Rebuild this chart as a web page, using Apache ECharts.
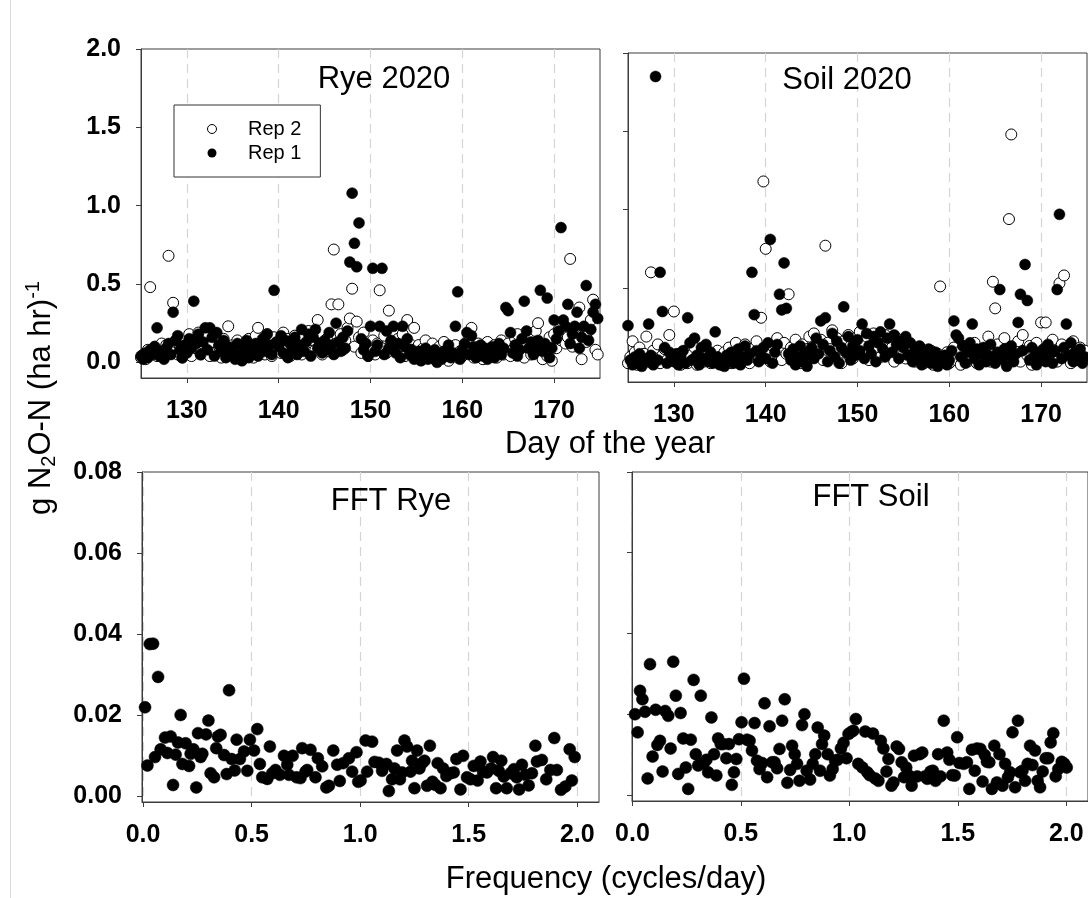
<!DOCTYPE html>
<html><head><meta charset="utf-8">
<script src="https://cdn.jsdelivr.net/npm/echarts@6/dist/echarts.min.js"></script>
<style>html,body{margin:0;padding:0;background:#fff}#chart{width:1088px;height:898px}</style>
</head><body><div id="chart"></div>
<script>
// Sampling schedule of the flux series: every 6 h starting at day 125
const START_DAY = 125, STEP_DAY = 0.25;

const ryeRep2 = [
0.03,0.05,0.02,0.08,0.48,0.06,0.10,0.04,0.09,0.12,0.05,0.11,0.68,0.07,0.38,0.13,0.05,0.10,0.03,0.08,
0.06,0.18,0.04,0.14,0.09,0.19,0.05,0.12,0.17,0.08,0.04,0.13,0.06,0.16,0.10,0.03,0.15,0.07,0.23,0.05,
0.11,0.04,0.14,0.08,0.02,0.12,0.06,0.15,0.09,0.03,0.17,0.22,0.07,0.13,0.05,0.18,0.10,0.04,0.16,0.08,
0.12,0.06,0.19,0.09,0.15,0.04,0.11,0.17,0.07,0.13,0.05,0.16,0.10,0.20,0.06,0.14,0.08,0.27,0.12,0.05,
0.09,0.15,0.07,0.37,0.72,0.12,0.37,0.18,0.08,0.14,0.22,0.28,0.47,0.10,0.26,0.16,0.06,0.19,0.11,0.04,
0.08,0.14,0.05,0.12,0.46,0.09,0.17,0.06,0.33,0.13,0.20,0.07,0.15,0.10,0.18,0.04,0.27,0.12,0.08,0.22,
0.06,0.11,0.03,0.09,0.14,0.05,0.08,0.12,0.02,0.07,0.10,0.04,0.13,0.06,0.01,0.09,0.05,0.11,0.03,0.07,
0.04,0.10,0.06,0.15,0.22,0.03,0.08,0.12,0.05,0.02,0.09,0.13,0.04,0.07,0.11,0.03,0.06,0.14,0.05,0.09,
0.12,0.04,0.08,0.15,0.18,0.06,0.10,0.03,0.13,0.17,0.05,0.09,0.20,0.25,0.07,0.02,0.11,0.04,0.16,0.01,
0.18,0.09,0.21,0.14,0.19,0.12,0.16,0.66,0.10,0.22,0.15,0.35,0.02,0.17,0.13,0.20,0.27,0.40,0.08,0.05
];
const ryeRep1 = [
0.04,0.02,0.06,0.03,0.08,0.05,0.10,0.22,0.04,0.07,0.02,0.09,0.12,0.05,0.32,0.14,0.17,0.08,0.03,0.11,
0.06,0.15,0.09,0.39,0.12,0.18,0.05,0.13,0.22,0.08,0.22,0.16,0.04,0.19,0.11,0.07,0.14,0.03,0.10,0.06,
0.09,0.02,0.12,0.05,0.01,0.08,0.14,0.03,0.10,0.06,0.12,0.04,0.09,0.15,0.07,0.18,0.11,0.05,0.46,0.13,
0.10,0.17,0.06,0.14,0.03,0.12,0.08,0.16,0.05,0.11,0.21,0.07,0.13,0.18,0.04,0.16,0.21,0.09,0.12,0.06,
0.14,0.08,0.19,0.11,0.05,0.25,0.13,0.07,0.16,0.09,0.20,0.64,1.08,0.76,0.61,0.89,0.15,0.08,0.12,0.04,
0.23,0.60,0.07,0.11,0.23,0.60,0.05,0.20,0.09,0.14,0.23,0.06,0.12,0.03,0.23,0.10,0.15,0.05,0.08,0.02,
0.04,0.07,0.01,0.05,0.09,0.02,0.06,0.03,0.08,0.00,0.05,0.02,0.07,0.04,0.11,0.03,0.06,0.23,0.45,0.02,
0.08,0.12,0.19,0.05,0.17,0.10,0.03,0.07,0.11,0.04,0.09,0.02,0.06,0.10,0.03,0.08,0.12,0.05,0.09,0.35,
0.33,0.19,0.06,0.11,0.04,0.08,0.15,0.39,0.20,0.09,0.13,0.05,0.10,0.14,0.46,0.07,0.12,0.41,0.03,0.09,
0.27,0.15,0.20,0.86,0.27,0.23,0.37,0.12,0.18,0.23,0.32,0.09,0.16,0.23,0.49,0.14,0.21,0.32,0.37,0.28
];
const soilRep2 = [
0.02,0.06,0.16,0.09,0.01,0.12,0.04,0.08,0.19,0.03,0.60,0.10,0.05,0.14,0.02,0.07,0.11,0.04,0.20,0.06,
0.35,0.03,0.08,0.01,0.05,0.10,0.02,0.07,0.04,0.12,0.01,0.06,0.09,0.03,0.11,0.05,0.02,0.08,0.04,0.10,
0.06,0.01,0.09,0.04,0.12,0.02,0.07,0.15,0.03,0.10,0.05,0.14,0.08,0.02,0.11,0.06,0.16,0.04,0.31,1.18,
0.75,0.09,0.03,0.13,0.06,0.18,0.10,0.04,0.15,0.08,0.46,0.12,0.05,0.17,0.09,0.02,0.14,0.07,0.11,0.19,
0.06,0.21,0.13,0.09,0.17,0.04,0.77,0.15,0.11,0.23,0.07,0.18,0.12,0.02,0.16,0.09,0.20,0.13,0.05,0.18,
0.11,0.22,0.08,0.15,0.19,0.04,0.13,0.21,0.10,0.17,0.06,0.14,0.20,0.09,0.16,0.12,0.03,0.18,0.08,0.13,
0.10,0.05,0.15,0.08,0.12,0.03,0.09,0.06,0.11,0.02,0.07,0.04,0.10,0.01,0.06,0.08,0.51,0.03,0.05,0.09,
0.02,0.07,0.12,0.04,0.09,0.01,0.13,0.06,0.03,0.10,0.05,0.15,0.02,0.08,0.11,0.04,0.06,0.19,0.03,0.54,
0.37,0.14,0.05,0.09,0.18,0.02,0.94,1.48,0.12,0.06,0.16,0.03,0.20,0.10,0.07,0.13,0.01,0.09,0.15,0.04,
0.28,0.08,0.28,0.12,0.05,0.17,0.10,0.03,0.53,0.14,0.58,0.07,0.11,0.02,0.16,0.09,0.04,0.12,0.06,0.10
];
const soilRep1 = [
0.26,0.04,0.01,0.06,0.02,0.08,0.00,0.05,0.03,0.27,0.07,0.01,1.85,0.04,0.60,0.35,0.12,0.02,0.09,0.05,
0.03,0.08,0.01,0.06,0.10,0.02,0.31,0.15,0.04,0.18,0.07,0.01,0.12,0.05,0.14,0.03,0.09,0.02,0.22,0.06,
0.01,0.04,0.00,0.07,0.03,0.09,0.02,0.05,0.11,0.01,0.06,0.13,0.04,0.08,0.60,0.33,0.10,0.03,0.07,0.12,
0.05,0.15,0.81,0.02,0.09,0.14,0.46,0.36,0.66,0.37,0.08,0.04,0.11,0.01,0.06,0.13,0.03,0.09,0.00,0.07,
0.12,0.05,0.18,0.08,0.29,0.14,0.31,0.03,0.10,0.21,0.06,0.16,0.02,0.12,0.38,0.09,0.19,0.04,0.13,0.07,
0.17,0.10,0.27,0.05,0.21,0.13,0.08,0.19,0.03,0.15,0.22,0.11,0.06,0.18,0.27,0.09,0.20,0.14,0.05,0.16,
0.12,0.19,0.07,0.15,0.03,0.10,0.05,0.13,0.01,0.08,0.04,0.11,0.02,0.06,0.09,0.00,0.05,0.03,0.07,0.01,
0.04,0.10,0.29,0.20,0.18,0.06,0.13,0.02,0.09,0.15,0.27,0.05,0.11,0.01,0.08,0.12,0.03,0.07,0.14,0.04,
0.02,0.09,0.49,0.05,0.11,0.00,0.07,0.13,0.03,0.08,0.28,0.46,0.10,0.65,0.42,0.04,0.12,0.06,0.01,0.09,
0.06,0.11,0.03,0.14,0.08,0.02,0.10,0.49,0.97,0.05,0.12,0.27,0.07,0.15,0.03,0.09,0.04,0.11,0.02,0.06
];

const fftRyeFreq = [0.009,0.020,0.031,0.046,0.055,0.069,0.081,0.101,0.112,0.127,0.138,0.150,0.161,0.173,0.181,0.196,0.212,0.219,0.232,0.245,0.253,0.265,0.273,0.290,0.301,0.311,0.327,0.337,0.345,0.357,0.373,0.385,0.396,0.408,0.422,0.431,0.446,0.465,0.480,0.492,0.511,0.526,0.538,0.549,0.572,0.584,0.595,0.610,0.630,0.649,0.664,0.672,0.689,0.707,0.725,0.733,0.748,0.756,0.771,0.794,0.805,0.825,0.844,0.856,0.876,0.894,0.906,0.922,0.948,0.963,0.983,0.991,1.002,1.025,1.032,1.055,1.066,1.086,1.101,1.121,1.132,1.147,1.158,1.170,1.183,1.193,1.204,1.216,1.232,1.239,1.250,1.262,1.273,1.285,1.296,1.308,1.321,1.333,1.347,1.357,1.370,1.382,1.397,1.416,1.431,1.443,1.462,1.474,1.492,1.508,1.523,1.541,1.554,1.566,1.584,1.603,1.612,1.626,1.638,1.650,1.661,1.675,1.692,1.708,1.721,1.732,1.745,1.761,1.776,1.791,1.807,1.814,1.837,1.857,1.876,1.894,1.906,1.925,1.945,1.965,1.975,1.988];
const fftRyeAmp = [0.0219,0.0075,0.0375,0.0376,0.0096,0.0294,0.0115,0.0144,0.0106,0.0147,0.0027,0.0102,0.0132,0.0200,0.0079,0.0130,0.0074,0.0104,0.0115,0.0021,0.0155,0.0096,0.0104,0.0152,0.0186,0.0056,0.0046,0.0118,0.0147,0.0151,0.0101,0.0054,0.0261,0.0091,0.0063,0.0139,0.0091,0.0110,0.0062,0.0139,0.0112,0.0165,0.0079,0.0046,0.0042,0.0122,0.0056,0.0064,0.0052,0.0099,0.0077,0.0052,0.0099,0.0046,0.0044,0.0118,0.0060,0.0064,0.0114,0.0046,0.0093,0.0073,0.0021,0.0025,0.0112,0.0077,0.0037,0.0081,0.0093,0.0060,0.0108,0.0035,0.0038,0.0137,0.0060,0.0134,0.0084,0.0082,0.0062,0.0079,0.0012,0.0041,0.0068,0.0112,0.0041,0.0058,0.0137,0.0122,0.0060,0.0087,0.0019,0.0112,0.0068,0.0081,0.0087,0.0025,0.0124,0.0035,0.0027,0.0081,0.0019,0.0068,0.0049,0.0056,0.0058,0.0091,0.0016,0.0099,0.0046,0.0041,0.0074,0.0038,0.0085,0.0060,0.0058,0.0068,0.0096,0.0019,0.0062,0.0087,0.0048,0.0019,0.0056,0.0066,0.0046,0.0016,0.0077,0.0052,0.0026,0.0056,0.0124,0.0085,0.0089,0.0041,0.0064,0.0143,0.0064,0.0015,0.0023,0.0115,0.0038,0.0096];

const fftSoilFreq = [0.012,0.024,0.035,0.046,0.058,0.070,0.081,0.093,0.107,0.115,0.127,0.139,0.151,0.165,0.176,0.188,0.200,0.211,0.222,0.234,0.246,0.257,0.269,0.282,0.292,0.303,0.315,0.329,0.341,0.349,0.364,0.376,0.387,0.395,0.407,0.418,0.433,0.445,0.458,0.468,0.479,0.491,0.503,0.514,0.528,0.540,0.551,0.563,0.574,0.586,0.598,0.609,0.621,0.632,0.644,0.655,0.667,0.678,0.690,0.702,0.714,0.727,0.736,0.748,0.759,0.770,0.782,0.793,0.803,0.819,0.831,0.843,0.854,0.865,0.874,0.884,0.900,0.910,0.923,0.934,0.946,0.961,0.973,0.987,0.996,1.006,1.018,1.030,1.041,1.060,1.073,1.083,1.094,1.109,1.119,1.134,1.145,1.157,1.171,1.180,1.194,1.203,1.218,1.229,1.241,1.252,1.262,1.275,1.287,1.298,1.313,1.324,1.336,1.348,1.359,1.374,1.385,1.397,1.409,1.420,1.435,1.451,1.461,1.474,1.486,1.497,1.507,1.527,1.542,1.553,1.565,1.578,1.588,1.604,1.614,1.624,1.634,1.645,1.657,1.668,1.680,1.692,1.706,1.718,1.731,1.741,1.752,1.764,1.777,1.787,1.798,1.810,1.822,1.833,1.844,1.856,1.868,1.879,1.891,1.905,1.917,1.928,1.940,1.951,1.963,1.979,1.991,2.002];
const fftSoilAmp = [0.0200,0.0155,0.0258,0.0237,0.0206,0.0041,0.0324,0.0095,0.0211,0.0124,0.0134,0.0058,0.0208,0.0196,0.0115,0.0330,0.0246,0.0052,0.0203,0.0140,0.0068,0.0015,0.0137,0.0285,0.0101,0.0073,0.0246,0.0079,0.0087,0.0056,0.0192,0.0101,0.0048,0.0140,0.0126,0.0126,0.0091,0.0126,0.0025,0.0056,0.0089,0.0138,0.0180,0.0288,0.0137,0.0134,0.0110,0.0178,0.0085,0.0064,0.0079,0.0227,0.0044,0.0170,0.0081,0.0081,0.0066,0.0114,0.0184,0.0237,0.0030,0.0062,0.0122,0.0101,0.0077,0.0035,0.0173,0.0200,0.0060,0.0038,0.0077,0.0101,0.0167,0.0060,0.0126,0.0147,0.0101,0.0048,0.0064,0.0085,0.0087,0.0115,0.0129,0.0091,0.0151,0.0155,0.0159,0.0188,0.0077,0.0068,0.0157,0.0056,0.0049,0.0152,0.0041,0.0035,0.0134,0.0115,0.0058,0.0089,0.0023,0.0031,0.0120,0.0114,0.0081,0.0044,0.0068,0.0048,0.0023,0.0097,0.0046,0.0101,0.0105,0.0046,0.0040,0.0058,0.0060,0.0035,0.0101,0.0046,0.0184,0.0105,0.0087,0.0049,0.0048,0.0143,0.0079,0.0077,0.0081,0.0015,0.0112,0.0060,0.0115,0.0114,0.0033,0.0099,0.0082,0.0081,0.0015,0.0122,0.0031,0.0101,0.0023,0.0077,0.0044,0.0056,0.0155,0.0019,0.0184,0.0056,0.0060,0.0035,0.0077,0.0122,0.0074,0.0110,0.0035,0.0019,0.0058,0.0091,0.0091,0.0130,0.0153,0.0046,0.0064,0.0082,0.0077,0.0068];

const dayTicks = [130, 140, 150, 160, 170];
const freqTicks = [0, 0.5, 1, 1.5, 2];
const fluxTicks = [0, 0.5, 1, 1.5, 2];
const ampTicks = [0, 0.02, 0.04, 0.06, 0.08];
const panelTitles = ['Rye 2020', 'Soil 2020', 'FFT Rye', 'FFT Soil'];
const legendNames = ['Rep 2', 'Rep 1'];
const xNameTop = 'Day of the year';
const xNameBottom = 'Frequency (cycles/day)';

const FONT = '"Liberation Sans", Arial, Helvetica, sans-serif';
const AX = '#3c3c3c';

function toXY(vals) { return vals.map((v, i) => [START_DAY + i * STEP_DAY, v]); }
function pairs(xs, ys) { return xs.map((x, i) => [x, ys[i]]); }

function xAx(gi, min, max, ticks, fmt) {
  return {
    type: 'value', gridIndex: gi, min: min, max: max,
    axisLine: { show: true, onZero: false, lineStyle: { color: AX, width: 1 } },
    axisTick: { show: true, inside: false, length: 5, customValues: ticks, lineStyle: { color: AX } },
    axisLabel: { show: true, customValues: ticks, formatter: fmt, margin: 21, color: '#000',
      fontFamily: FONT, fontWeight: 'bold', fontSize: 25 },
    splitLine: { show: true, lineStyle: { color: '#d4d4d4', width: 1.2, type: [9, 6] } }
  };
}
function yAx(gi, min, max, ticks, fmt, showLabel) {
  return {
    type: 'value', gridIndex: gi, min: min, max: max,
    axisLine: { show: true, onZero: false, lineStyle: { color: AX, width: 1 } },
    axisTick: { show: true, inside: false, length: 5, customValues: ticks, lineStyle: { color: AX } },
    axisLabel: { show: showLabel, customValues: ticks, formatter: fmt, margin: 20, color: '#000',
      fontFamily: FONT, fontWeight: 'bold', fontSize: 25 },
    splitLine: { show: false }
  };
}

const fmtDay = v => String(Math.round(v));
const fmt1 = v => Number(v).toFixed(1);
const fmt2 = v => Number(v).toFixed(2);

const titleStyle = { fontFamily: FONT, fontSize: 31, fontWeight: 'normal', color: '#000' };
function ttl(text, x, y) {
  return { text: text, left: x, top: y, padding: 0, textAlign: 'center', textVerticalAlign: 'middle', textStyle: titleStyle };
}

const openStyle = { color: '#ffffff', borderColor: '#000', borderWidth: 1, opacity: 1 };
const fillStyle = { color: '#000', borderColor: '#000', borderWidth: 0.5, opacity: 1 };

const option = {
  animation: false,
  backgroundColor: '#fff',
  title: [
    ttl(panelTitles[0], 384, 79),
    ttl(panelTitles[1], 847, 80),
    ttl(panelTitles[2], 391, 501),
    ttl(panelTitles[3], 871, 497),
    ttl(xNameTop, 610, 444),
    ttl(xNameBottom, 606, 879)
  ],
  legend: {
    orient: 'vertical', left: 174, top: 105,
    padding: [14, 19, 14, 33], itemGap: 4, itemWidth: 62, itemHeight: 9,
    borderColor: '#333', borderWidth: 1, backgroundColor: '#fff',
    textStyle: { fontFamily: FONT, fontSize: 20, color: '#000' },
    data: [
      { name: legendNames[0], icon: 'circle', itemStyle: openStyle },
      { name: legendNames[1], icon: 'circle', itemStyle: { color: '#000', borderColor: '#000', borderWidth: 0, opacity: 1 } }
    ]
  },
  grid: [
    { left: 141, top: 49, width: 459, height: 329, show: true, borderColor: AX, borderWidth: 1, backgroundColor: 'transparent' },
    { left: 628, top: 53, width: 459, height: 329, show: true, borderColor: AX, borderWidth: 1, backgroundColor: 'transparent' },
    { left: 142, top: 472, width: 457, height: 330, show: true, borderColor: AX, borderWidth: 1, backgroundColor: 'transparent' },
    { left: 632, top: 472, width: 458, height: 329, show: true, borderColor: AX, borderWidth: 1, backgroundColor: 'transparent' }
  ],
  xAxis: [
    xAx(0, 125, 175, dayTicks, fmtDay),
    xAx(1, 125, 175, dayTicks, fmtDay),
    xAx(2, -0.005, 2.1, freqTicks, fmt1),
    xAx(3, -0.002, 2.1, freqTicks, fmt1)
  ],
  yAxis: [
    yAx(0, -0.1, 2.0, fluxTicks, fmt1, true),
    yAx(1, -0.1, 2.0, fluxTicks, fmt1, false),
    yAx(2, -0.0015, 0.08, ampTicks, fmt2, true),
    yAx(3, -0.0015, 0.08, ampTicks, fmt2, false)
  ],
  graphic: [
    { type: 'line', silent: true, shape: { x1: 10.5, y1: 0, x2: 10.5, y2: 898 }, style: { stroke: '#dadada', lineWidth: 1 } },
    { type: 'text', x: 41, y: 398, rotation: Math.PI / 2, silent: true,
      style: {
        text: 'g N{sub|2}O-N (ha hr){sup|-1}',
        fontFamily: 'Liberation Sans', fontSize: 31, lineHeight: 36, fill: '#000',
        align: 'center', verticalAlign: 'middle',
        rich: {
          sub: { fontFamily: 'Liberation Sans', fontSize: 20, lineHeight: 16, verticalAlign: 'bottom', fill: '#000' },
          sup: { fontFamily: 'Liberation Sans', fontSize: 20, lineHeight: 16, verticalAlign: 'top', fill: '#000' }
        }
      } }
  ],
  series: [
    { name: legendNames[0], type: 'scatter', xAxisIndex: 0, yAxisIndex: 0, data: toXY(ryeRep2), symbol: 'circle', symbolSize: 11, itemStyle: openStyle },
    { name: legendNames[1], type: 'scatter', xAxisIndex: 0, yAxisIndex: 0, data: toXY(ryeRep1), symbol: 'circle', symbolSize: 11, itemStyle: fillStyle },
    { name: legendNames[0], type: 'scatter', xAxisIndex: 1, yAxisIndex: 1, data: toXY(soilRep2), symbol: 'circle', symbolSize: 11, itemStyle: openStyle },
    { name: legendNames[1], type: 'scatter', xAxisIndex: 1, yAxisIndex: 1, data: toXY(soilRep1), symbol: 'circle', symbolSize: 11, itemStyle: fillStyle },
    { name: panelTitles[2], type: 'scatter', xAxisIndex: 2, yAxisIndex: 2, data: pairs(fftRyeFreq, fftRyeAmp), symbol: 'circle', symbolSize: 12, itemStyle: fillStyle },
    { name: panelTitles[3], type: 'scatter', xAxisIndex: 3, yAxisIndex: 3, data: pairs(fftSoilFreq, fftSoilAmp), symbol: 'circle', symbolSize: 12, itemStyle: fillStyle }
  ]
};

const chart = echarts.init(document.getElementById('chart'), null, { renderer: 'canvas' });
chart.setOption(option);
</script>
</body></html>
